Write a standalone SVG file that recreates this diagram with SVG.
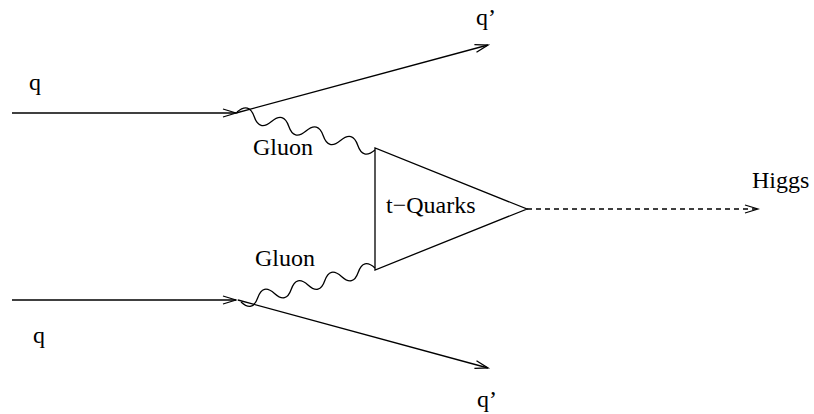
<svg xmlns="http://www.w3.org/2000/svg" width="814" height="414" viewBox="0 0 814 414">
<style>
.ln{stroke:#000;stroke-width:1.3;fill:none}
.g{stroke:#000;stroke-width:1.3;fill:none}
text{font-family:"Liberation Serif","Times New Roman",Times,"DejaVu Serif",serif;font-size:24px;fill:#000}
</style>
<defs>
<marker id="arr" markerUnits="userSpaceOnUse" markerWidth="16" markerHeight="12" viewBox="-14 -6 16 12" refX="0" refY="0" orient="auto">
<path d="M-13,-4 L0,0 L-13,4" fill="none" stroke="#000" stroke-width="1.3"/>
</marker>
</defs>
<rect width="814" height="414" fill="#fff"/>
<g id="connectors">
<line class="ln" x1="12" y1="113" x2="236" y2="113" marker-end="url(#arr)"/>
<line class="ln" x1="236" y1="113" x2="488" y2="45" marker-end="url(#arr)"/>
<line class="ln" x1="12" y1="300" x2="236" y2="300" marker-end="url(#arr)"/>
<line class="ln" x1="238" y1="300" x2="488" y2="368" marker-end="url(#arr)"/>
<path class="g" transform="translate(237,112) rotate(15.4)" d="M0,0 q8.94,-13 17.89,0 t17.89,0 t17.89,0 t17.89,0 t17.89,0 t17.89,0 t17.89,0 t17.89,0"/>
<path class="g" transform="translate(241,302) rotate(-14.24)" d="M0,0 q8.64,13 17.28,0 t17.28,0 t17.28,0 t17.28,0 t17.28,0 t17.28,0 t17.28,0 t17.28,0"/>
<line class="ln" x1="527" y1="209" x2="758" y2="209" stroke-dasharray="5,4" marker-end="url(#arr)"/>
</g>
<g id="triangle">
<path class="ln" d="M375,148 L375,270 L527,209 Z"/>
<text x="386" y="213">t−Quarks</text>
</g>
<g id="q-in-top"><text x="29" y="90">q</text></g>
<g id="q-in-bottom"><text x="33" y="343">q</text></g>
<g id="q-out-top"><text x="476" y="25">q’</text></g>
<g id="q-out-bottom"><text x="477" y="407">q’</text></g>
<g id="gluon-top"><text x="253" y="155">Gluon</text></g>
<g id="gluon-bottom"><text x="255" y="266">Gluon</text></g>
<g id="higgs"><text x="752" y="188">Higgs</text></g>
</svg>
